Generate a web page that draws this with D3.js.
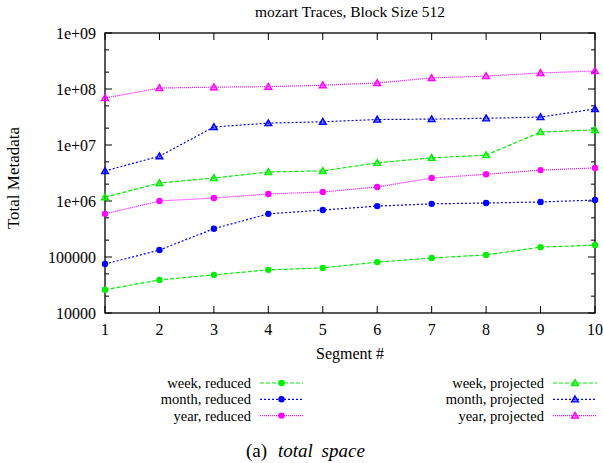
<!DOCTYPE html>
<html><head><meta charset="utf-8">
<script src="https://cdn.jsdelivr.net/npm/d3@7"></script>
<style>body{margin:0;background:#fff}svg{display:block}text{font-family:"Liberation Serif","Times New Roman",serif;fill:#000}</style>
</head><body><svg id="c" width="603" height="463"></svg>
<script>
const segments = [1,2,3,4,5,6,7,8,9,10];
const weekReduced    = [2.6e4,3.9e4,4.8e4,5.9e4,6.4e4,8.1e4,9.6e4,1.09e5,1.5e5,1.63e5];
const monthReduced   = [7.5e4,1.33e5,3.2e5,5.9e5,6.9e5,8.1e5,8.9e5,9.2e5,9.6e5,1.04e6];
const yearReduced    = [5.9e5,1.0e6,1.13e6,1.33e6,1.45e6,1.78e6,2.57e6,3.0e6,3.56e6,3.9e6];
const weekProjected  = [1.17e6,2.1e6,2.57e6,3.3e6,3.45e6,4.8e6,5.9e6,6.6e6,1.7e7,1.86e7];
const monthProjected = [3.45e6,6.3e6,2.1e7,2.46e7,2.6e7,2.85e7,2.9e7,3.0e7,3.16e7,4.4e7];
const yearProjected  = [6.9e7,1.04e8,1.08e8,1.1e8,1.17e8,1.28e8,1.58e8,1.7e8,1.93e8,2.1e8];
const yTicks = [1e4,1e5,1e6,1e7,1e8,1e9];
const yTickLabels = ["10000","100000","1e+06","1e+07","1e+08","1e+09"];

const series = [
  {name:"week, reduced", values:weekReduced, color:"#00ee00", dash:"4,2", marker:"circle", col:0, row:0},
  {name:"month, reduced", values:monthReduced, color:"#0000ff", dash:"2,2", marker:"circle", col:0, row:1},
  {name:"year, reduced", values:yearReduced, color:"#ff00ff", dash:"1,1", marker:"circle", col:0, row:2},
  {name:"week, projected", values:weekProjected, color:"#00ee00", dash:"4,2", marker:"tri", col:1, row:0},
  {name:"month, projected", values:monthProjected, color:"#0000ff", dash:"2,2", marker:"tri", col:1, row:1},
  {name:"year, projected", values:yearProjected, color:"#ff00ff", dash:"1,1", marker:"tri", col:1, row:2}
];

const svg = d3.select("#c");
const L=105, R=595, T=33, B=313;
const x = d3.scaleLinear().domain([1,10]).range([L,R]);
const y = d3.scaleLog().domain([1e4,1e9]).range([B,T]);

svg.append("rect").attr("x",L).attr("y",T).attr("width",R-L).attr("height",B-T)
  .attr("fill","none").attr("stroke","#000").attr("stroke-width",1.3);

const minor=[];
for(let e=4;e<9;e++){ for(const m of [2,5]) minor.push(m*Math.pow(10,e)); }
const g = svg.append("g");
minor.forEach(v=>{
  g.append("line").attr("x1",L).attr("x2",L+4).attr("y1",y(v)).attr("y2",y(v)).attr("stroke","#000");
  g.append("line").attr("x1",R).attr("x2",R-4).attr("y1",y(v)).attr("y2",y(v)).attr("stroke","#000");
});
yTicks.forEach(v=>{
  g.append("line").attr("x1",L).attr("x2",L+7).attr("y1",y(v)).attr("y2",y(v)).attr("stroke","#000");
  g.append("line").attr("x1",R).attr("x2",R-7).attr("y1",y(v)).attr("y2",y(v)).attr("stroke","#000");
});
segments.forEach(s=>{
  g.append("line").attr("x1",x(s)).attr("x2",x(s)).attr("y1",T).attr("y2",T+7).attr("stroke","#000");
  g.append("line").attr("x1",x(s)).attr("x2",x(s)).attr("y1",B).attr("y2",B-7).attr("stroke","#000");
});

svg.append("g").selectAll("text").data(yTicks).join("text")
  .attr("x",L-9).attr("y",d=>y(d)).attr("dy","0.35em").attr("text-anchor","end")
  .style("font-size","16px").text((d,i)=>yTickLabels[i]);
svg.append("g").selectAll("text").data(segments).join("text")
  .attr("x",d=>x(d)).attr("y",B+16).attr("dy","0.35em").attr("text-anchor","middle")
  .style("font-size","16px").text(d=>d);

svg.append("text").attr("x",350).attr("y",12).attr("dy","0.35em").attr("text-anchor","middle")
  .style("font-size","15.5px").text("mozart Traces, Block Size 512");
svg.append("text").attr("x",350).attr("y",353).attr("dy","0.35em").attr("text-anchor","middle")
  .style("font-size","16px").text("Segment #");
svg.append("text").attr("transform","translate(13,178) rotate(-90)").attr("dy","0.35em").attr("text-anchor","middle")
  .style("font-size","17px").text("Total Metadata");

const tri = d3.symbol().type(d3.symbolTriangle).size(20);
function marker(sel, s, cx, cy){
  if(s.marker==="circle"){
    sel.append("circle").attr("cx",cx).attr("cy",cy).attr("r",3.2).attr("fill",s.color);
  } else {
    sel.append("path").attr("d",tri).attr("transform",`translate(${cx},${cy+0.6})`)
      .attr("fill",s.color).attr("fill-opacity",0.5).attr("stroke",s.color).attr("stroke-width",1.4);
  }
}

const line = d3.line().x((d,i)=>x(segments[i])).y(d=>y(d));
series.forEach(s=>{
  const gs = svg.append("g");
  gs.append("path").attr("d",line(s.values)).attr("fill","none").attr("stroke",s.color)
    .attr("stroke-width",1.2).attr("stroke-dasharray",s.dash);
  s.values.forEach((v,i)=>marker(gs,s,x(segments[i]),y(v)));
});

const rowsY=[383,399.3,415.6];
const colText=[251,544], colLine=[[260,303],[553,597]];
series.forEach(s=>{
  const yy=rowsY[s.row];
  svg.append("text").attr("x",colText[s.col]).attr("y",yy).attr("dy","0.35em").attr("text-anchor","end")
    .style("font-size","14.5px").text(s.name);
  const [a,b]=colLine[s.col];
  svg.append("line").attr("x1",a).attr("x2",b).attr("y1",yy).attr("y2",yy).attr("stroke",s.color)
    .attr("stroke-width",1.2).attr("stroke-dasharray",s.dash);
  marker(svg,s,(a+b)/2,yy);
});

const cap = svg.append("text").attr("x",246).attr("y",450).attr("dy","0.35em").style("font-size","19px");
cap.append("tspan").text("(a)");
cap.append("tspan").attr("x",278).style("font-style","italic").attr("word-spacing","4px").text("total space");
</script></body></html>
